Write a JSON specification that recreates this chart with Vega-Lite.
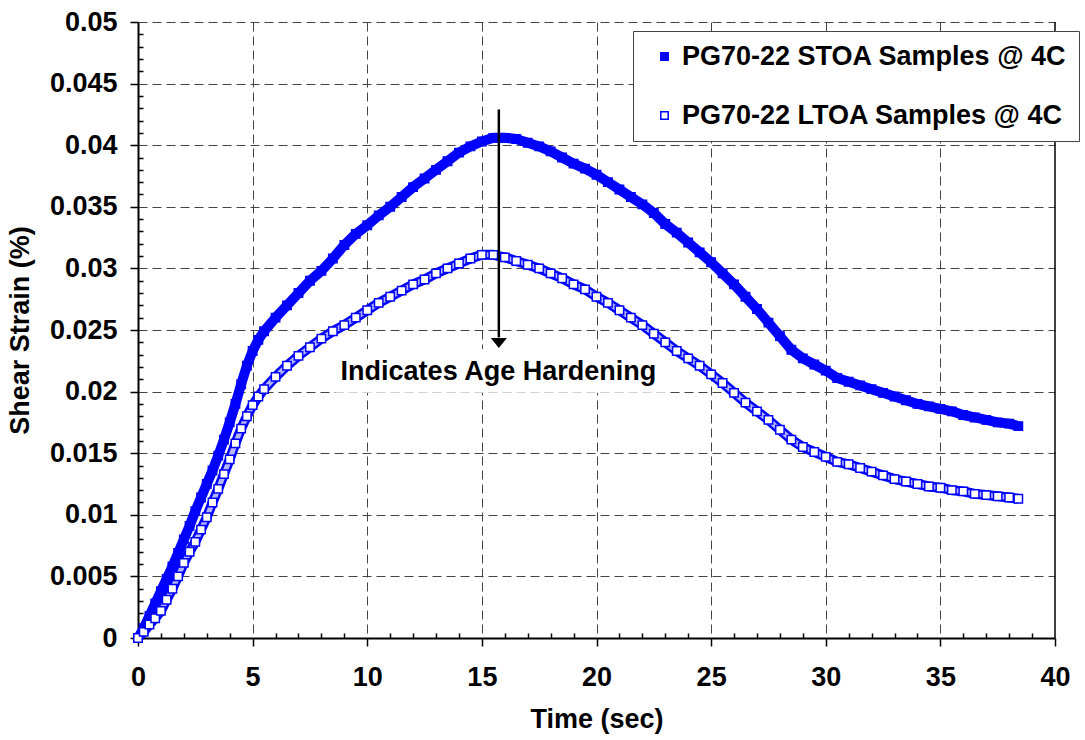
{
  "$schema": "https://vega.github.io/schema/vega-lite/v6.json",
  "width": 917,
  "height": 616,
  "autosize": {"type": "none"},
  "padding": {"left": 138, "top": 22, "right": 30, "bottom": 102},
  "background": "white",
  "config": {
    "view": {"stroke": null},
    "font": "Liberation Sans",
    "axis": {
      "labelFont": "Liberation Sans",
      "labelFontSize": 27,
      "labelFontWeight": "bold",
      "labelColor": "black",
      "titleFont": "Liberation Sans",
      "titleFontSize": 27,
      "titleFontWeight": "bold",
      "titleColor": "black",
      "domainColor": "black",
      "domainWidth": 2,
      "tickColor": "black",
      "tickWidth": 1.5,
      "gridColor": "#444444",
      "gridDash": [9, 5],
      "gridWidth": 1
    },
    "legend": {
      "labelFont": "Liberation Sans",
      "labelFontSize": 27,
      "labelFontWeight": "bold",
      "labelColor": "black"
    }
  },
  "datasets": {
    "curves": [
      {"t":0,"s":0,"g":"STOA"},{"t":0.25,"s":0.0008,"g":"STOA"},{"t":0.5,"s":0.0018,"g":"STOA"},{"t":0.75,"s":0.0028,"g":"STOA"},{"t":1,"s":0.0038,"g":"STOA"},{"t":1.25,"s":0.0048,"g":"STOA"},{"t":1.5,"s":0.0058,"g":"STOA"},{"t":1.75,"s":0.0069,"g":"STOA"},{"t":2,"s":0.008,"g":"STOA"},{"t":2.25,"s":0.0091,"g":"STOA"},{"t":2.5,"s":0.0103,"g":"STOA"},{"t":2.75,"s":0.0114,"g":"STOA"},{"t":3,"s":0.0125,"g":"STOA"},{"t":3.25,"s":0.0136,"g":"STOA"},{"t":3.5,"s":0.0148,"g":"STOA"},{"t":3.75,"s":0.0161,"g":"STOA"},{"t":4,"s":0.0175,"g":"STOA"},{"t":4.25,"s":0.019,"g":"STOA"},{"t":4.5,"s":0.0206,"g":"STOA"},{"t":4.75,"s":0.0221,"g":"STOA"},{"t":5,"s":0.0233,"g":"STOA"},{"t":5.25,"s":0.0242,"g":"STOA"},{"t":5.5,"s":0.0249,"g":"STOA"},{"t":6,"s":0.026,"g":"STOA"},{"t":6.5,"s":0.027,"g":"STOA"},{"t":7,"s":0.028,"g":"STOA"},{"t":7.5,"s":0.029,"g":"STOA"},{"t":8,"s":0.0298,"g":"STOA"},{"t":8.5,"s":0.0308,"g":"STOA"},{"t":9,"s":0.0319,"g":"STOA"},{"t":9.5,"s":0.0328,"g":"STOA"},{"t":10,"s":0.0335,"g":"STOA"},{"t":10.5,"s":0.0343,"g":"STOA"},{"t":11,"s":0.035,"g":"STOA"},{"t":11.5,"s":0.0358,"g":"STOA"},{"t":12,"s":0.0366,"g":"STOA"},{"t":12.5,"s":0.0373,"g":"STOA"},{"t":13,"s":0.038,"g":"STOA"},{"t":13.5,"s":0.0387,"g":"STOA"},{"t":14,"s":0.0394,"g":"STOA"},{"t":14.5,"s":0.0399,"g":"STOA"},{"t":15,"s":0.0403,"g":"STOA"},{"t":15.5,"s":0.0406,"g":"STOA"},{"t":16,"s":0.0406,"g":"STOA"},{"t":16.5,"s":0.0405,"g":"STOA"},{"t":17,"s":0.0402,"g":"STOA"},{"t":17.5,"s":0.0399,"g":"STOA"},{"t":18,"s":0.0395,"g":"STOA"},{"t":18.5,"s":0.039,"g":"STOA"},{"t":19,"s":0.0385,"g":"STOA"},{"t":19.5,"s":0.0381,"g":"STOA"},{"t":20,"s":0.0376,"g":"STOA"},{"t":20.5,"s":0.037,"g":"STOA"},{"t":21,"s":0.0364,"g":"STOA"},{"t":21.5,"s":0.0358,"g":"STOA"},{"t":22,"s":0.0352,"g":"STOA"},{"t":22.5,"s":0.0345,"g":"STOA"},{"t":23,"s":0.0336,"g":"STOA"},{"t":23.5,"s":0.0329,"g":"STOA"},{"t":24,"s":0.0321,"g":"STOA"},{"t":24.5,"s":0.0313,"g":"STOA"},{"t":25,"s":0.0305,"g":"STOA"},{"t":25.5,"s":0.0296,"g":"STOA"},{"t":26,"s":0.0287,"g":"STOA"},{"t":26.5,"s":0.0277,"g":"STOA"},{"t":27,"s":0.0267,"g":"STOA"},{"t":27.5,"s":0.0256,"g":"STOA"},{"t":28,"s":0.0245,"g":"STOA"},{"t":28.5,"s":0.0234,"g":"STOA"},{"t":29,"s":0.0227,"g":"STOA"},{"t":29.5,"s":0.0222,"g":"STOA"},{"t":30,"s":0.0217,"g":"STOA"},{"t":30.5,"s":0.0211,"g":"STOA"},{"t":31,"s":0.0208,"g":"STOA"},{"t":31.5,"s":0.0205,"g":"STOA"},{"t":32,"s":0.0202,"g":"STOA"},{"t":32.5,"s":0.0199,"g":"STOA"},{"t":33,"s":0.0196,"g":"STOA"},{"t":33.5,"s":0.0193,"g":"STOA"},{"t":34,"s":0.019,"g":"STOA"},{"t":34.5,"s":0.0188,"g":"STOA"},{"t":35,"s":0.0186,"g":"STOA"},{"t":35.5,"s":0.0184,"g":"STOA"},{"t":36,"s":0.0181,"g":"STOA"},{"t":36.5,"s":0.0179,"g":"STOA"},{"t":37,"s":0.0177,"g":"STOA"},{"t":37.5,"s":0.0175,"g":"STOA"},{"t":38,"s":0.0174,"g":"STOA"},{"t":38.4,"s":0.0172,"g":"STOA"},
      {"t":0,"s":0,"g":"LTOA"},{"t":0.25,"s":0.0005,"g":"LTOA"},{"t":0.5,"s":0.0011,"g":"LTOA"},{"t":0.75,"s":0.0016,"g":"LTOA"},{"t":1,"s":0.0022,"g":"LTOA"},{"t":1.25,"s":0.0031,"g":"LTOA"},{"t":1.5,"s":0.004,"g":"LTOA"},{"t":1.75,"s":0.005,"g":"LTOA"},{"t":2,"s":0.0061,"g":"LTOA"},{"t":2.25,"s":0.007,"g":"LTOA"},{"t":2.5,"s":0.0078,"g":"LTOA"},{"t":2.75,"s":0.0088,"g":"LTOA"},{"t":3,"s":0.0098,"g":"LTOA"},{"t":3.25,"s":0.011,"g":"LTOA"},{"t":3.5,"s":0.0121,"g":"LTOA"},{"t":3.75,"s":0.0133,"g":"LTOA"},{"t":4,"s":0.0145,"g":"LTOA"},{"t":4.25,"s":0.0158,"g":"LTOA"},{"t":4.5,"s":0.017,"g":"LTOA"},{"t":4.75,"s":0.018,"g":"LTOA"},{"t":5,"s":0.0189,"g":"LTOA"},{"t":5.25,"s":0.0196,"g":"LTOA"},{"t":5.5,"s":0.0202,"g":"LTOA"},{"t":6,"s":0.0212,"g":"LTOA"},{"t":6.5,"s":0.0221,"g":"LTOA"},{"t":7,"s":0.0229,"g":"LTOA"},{"t":7.5,"s":0.0236,"g":"LTOA"},{"t":8,"s":0.0243,"g":"LTOA"},{"t":8.5,"s":0.0249,"g":"LTOA"},{"t":9,"s":0.0254,"g":"LTOA"},{"t":9.5,"s":0.026,"g":"LTOA"},{"t":10,"s":0.0266,"g":"LTOA"},{"t":10.5,"s":0.0272,"g":"LTOA"},{"t":11,"s":0.0277,"g":"LTOA"},{"t":11.5,"s":0.0282,"g":"LTOA"},{"t":12,"s":0.0287,"g":"LTOA"},{"t":12.5,"s":0.0291,"g":"LTOA"},{"t":13,"s":0.0296,"g":"LTOA"},{"t":13.5,"s":0.03,"g":"LTOA"},{"t":14,"s":0.0304,"g":"LTOA"},{"t":14.5,"s":0.0308,"g":"LTOA"},{"t":15,"s":0.0311,"g":"LTOA"},{"t":15.5,"s":0.0311,"g":"LTOA"},{"t":16,"s":0.0309,"g":"LTOA"},{"t":16.5,"s":0.0306,"g":"LTOA"},{"t":17,"s":0.0303,"g":"LTOA"},{"t":17.5,"s":0.03,"g":"LTOA"},{"t":18,"s":0.0296,"g":"LTOA"},{"t":18.5,"s":0.0292,"g":"LTOA"},{"t":19,"s":0.0287,"g":"LTOA"},{"t":19.5,"s":0.0283,"g":"LTOA"},{"t":20,"s":0.0277,"g":"LTOA"},{"t":20.5,"s":0.0272,"g":"LTOA"},{"t":21,"s":0.0266,"g":"LTOA"},{"t":21.5,"s":0.026,"g":"LTOA"},{"t":22,"s":0.0254,"g":"LTOA"},{"t":22.5,"s":0.0247,"g":"LTOA"},{"t":23,"s":0.024,"g":"LTOA"},{"t":23.5,"s":0.0233,"g":"LTOA"},{"t":24,"s":0.0227,"g":"LTOA"},{"t":24.5,"s":0.0221,"g":"LTOA"},{"t":25,"s":0.0214,"g":"LTOA"},{"t":25.5,"s":0.0207,"g":"LTOA"},{"t":26,"s":0.0199,"g":"LTOA"},{"t":26.5,"s":0.0191,"g":"LTOA"},{"t":27,"s":0.0184,"g":"LTOA"},{"t":27.5,"s":0.0177,"g":"LTOA"},{"t":28,"s":0.0169,"g":"LTOA"},{"t":28.5,"s":0.0161,"g":"LTOA"},{"t":29,"s":0.0155,"g":"LTOA"},{"t":29.5,"s":0.0151,"g":"LTOA"},{"t":30,"s":0.0147,"g":"LTOA"},{"t":30.5,"s":0.0143,"g":"LTOA"},{"t":31,"s":0.0141,"g":"LTOA"},{"t":31.5,"s":0.0138,"g":"LTOA"},{"t":32,"s":0.0135,"g":"LTOA"},{"t":32.5,"s":0.0132,"g":"LTOA"},{"t":33,"s":0.0129,"g":"LTOA"},{"t":33.5,"s":0.0127,"g":"LTOA"},{"t":34,"s":0.0125,"g":"LTOA"},{"t":34.5,"s":0.0123,"g":"LTOA"},{"t":35,"s":0.0122,"g":"LTOA"},{"t":35.5,"s":0.012,"g":"LTOA"},{"t":36,"s":0.0119,"g":"LTOA"},{"t":36.5,"s":0.0117,"g":"LTOA"},{"t":37,"s":0.0116,"g":"LTOA"},{"t":37.5,"s":0.0115,"g":"LTOA"},{"t":38,"s":0.0114,"g":"LTOA"},{"t":38.4,"s":0.0113,"g":"LTOA"}
    ]
  },
  "encoding": {
    "x": {
      "field": "t",
      "type": "quantitative",
      "scale": {"domain": [0, 40], "nice": false, "zero": false},
      "axis": {
        "title": "Time (sec)",
        "values": [0,1,2,3,4,5,6,7,8,9,10,11,12,13,14,15,16,17,18,19,20,21,22,23,24,25,26,27,28,29,30,31,32,33,34,35,36,37,38,39,40],
        "labelExpr": "datum.value % 5 === 0 ? format(datum.value, 'd') : ''",
        "gridOpacity": {"condition": {"test": "datum.value % 5 === 0 && datum.value > 0 && datum.value < 40", "value": 1}, "value": 0},
        "tickSize": {"condition": {"test": "datum.value % 5 === 0", "value": 8}, "value": -5},
        "labelPadding": 18,
        "titlePadding": 16,
        "labelFlush": false,
        "labelOverlap": false
      }
    },
    "y": {
      "field": "s",
      "type": "quantitative",
      "scale": {"domain": [0, 0.05], "nice": false, "zero": false},
      "axis": {
        "title": "Shear Strain (%)",
        "values": [0,0.001,0.002,0.003,0.004,0.005,0.006,0.007,0.008,0.009,0.01,0.011,0.012,0.013,0.014,0.015,0.016,0.017,0.018,0.019,0.02,0.021,0.022,0.023,0.024,0.025,0.026,0.027,0.028,0.029,0.03,0.031,0.032,0.033,0.034,0.035,0.036,0.037,0.038,0.039,0.04,0.041,0.042,0.043,0.044,0.045,0.046,0.047,0.048,0.049,0.05],
        "labelExpr": "abs(datum.value*200 - round(datum.value*200)) < 0.000001 ? format(datum.value, '~g') : ''",
        "gridOpacity": {"condition": {"test": "abs(datum.value*200 - round(datum.value*200)) < 0.000001 && datum.value > 0", "value": 1}, "value": 0},
        "tickSize": {"condition": {"test": "abs(datum.value*200 - round(datum.value*200)) < 0.000001", "value": 8}, "value": -5},
        "labelPadding": 13,
        "titlePadding": 15,
        "labelFlush": false,
        "labelOverlap": false
      }
    }
  },
  "layer": [
    {
      "data": {"values": [{"t": 8.6, "t2": 23.1, "s": 0.0199, "s2": 0.02345}]},
      "mark": {"type": "rect", "fill": "white", "stroke": null},
      "encoding": {"x2": {"field": "t2"}, "y2": {"field": "s2"}}
    },
    {
      "data": {"values": [{"t": 40, "s": 0, "s2": 0.05}]},
      "mark": {"type": "rule", "color": "black", "strokeWidth": 1.5},
      "encoding": {"y2": {"field": "s2"}}
    },
    {
      "data": {"name": "curves"},
      "transform": [{"filter": "datum.g === 'STOA'"}],
      "mark": {"type": "line", "color": "#0000FF", "strokeWidth": 10, "strokeJoin": "round"},
      "encoding": {}
    },
    {
      "data": {"name": "curves"},
      "transform": [{"filter": "datum.g === 'LTOA'"}],
      "mark": {"type": "line", "color": "#0000FF", "strokeWidth": 10, "strokeJoin": "round"},
      "encoding": {}
    },
    {
      "data": {"name": "curves"},
      "transform": [{"filter": "datum.g === 'LTOA'"}],
      "mark": {"type": "line", "color": "#B4B4FF", "strokeWidth": 5, "strokeJoin": "round"},
      "encoding": {}
    },
    {
      "data": {"name": "curves"},
      "mark": {"type": "point", "shape": "square", "filled": true, "opacity": 1, "stroke": "#0000FF", "strokeWidth": 1.5, "size": 70},
      "encoding": {
        "fill": {
          "field": "g",
          "type": "nominal",
          "scale": {"domain": ["STOA", "LTOA"], "range": ["#0000FF", "#FFFFFF"]},
          "legend": {
            "orient": "none",
            "legendX": 495,
            "legendY": 9,
            "title": null,
            "padding": 12,
            "rowPadding": 31,
            "symbolType": "square",
            "symbolSize": 55,
            "symbolStrokeColor": "#0000FF",
            "symbolStrokeWidth": 1.5,
            "symbolOffset": 6,
            "labelOffset": 4,
            "strokeColor": "#444444",
            "fillColor": "white",
            "labelLimit": 600,
            "labelExpr": "datum.value === 'STOA' ? 'PG70-22 STOA Samples @ 4C' : 'PG70-22 LTOA Samples @ 4C'"
          }
        }
      }
    },
    {
      "data": {"values": [{"t": 15.74, "s": 0.0429, "s2": 0.0244}]},
      "mark": {"type": "rule", "color": "black", "strokeWidth": 2.5},
      "encoding": {"y2": {"field": "s2"}}
    },
    {
      "data": {"values": [{"t": 15.74, "s": 0.02395}]},
      "mark": {"type": "point", "shape": "M -0.8 -0.5 L 0.8 -0.5 L 0 0.5 Z", "filled": true, "color": "black", "opacity": 1, "size": 400},
      "encoding": {}
    },
    {
      "data": {"values": [{"t": 15.72, "s": 0.02094, "label": "Indicates Age Hardening"}]},
      "mark": {"type": "text", "font": "Liberation Sans", "fontSize": 27, "fontWeight": "bold", "color": "black", "align": "center", "baseline": "alphabetic"},
      "encoding": {"text": {"field": "label"}}
    }
  ]
}
